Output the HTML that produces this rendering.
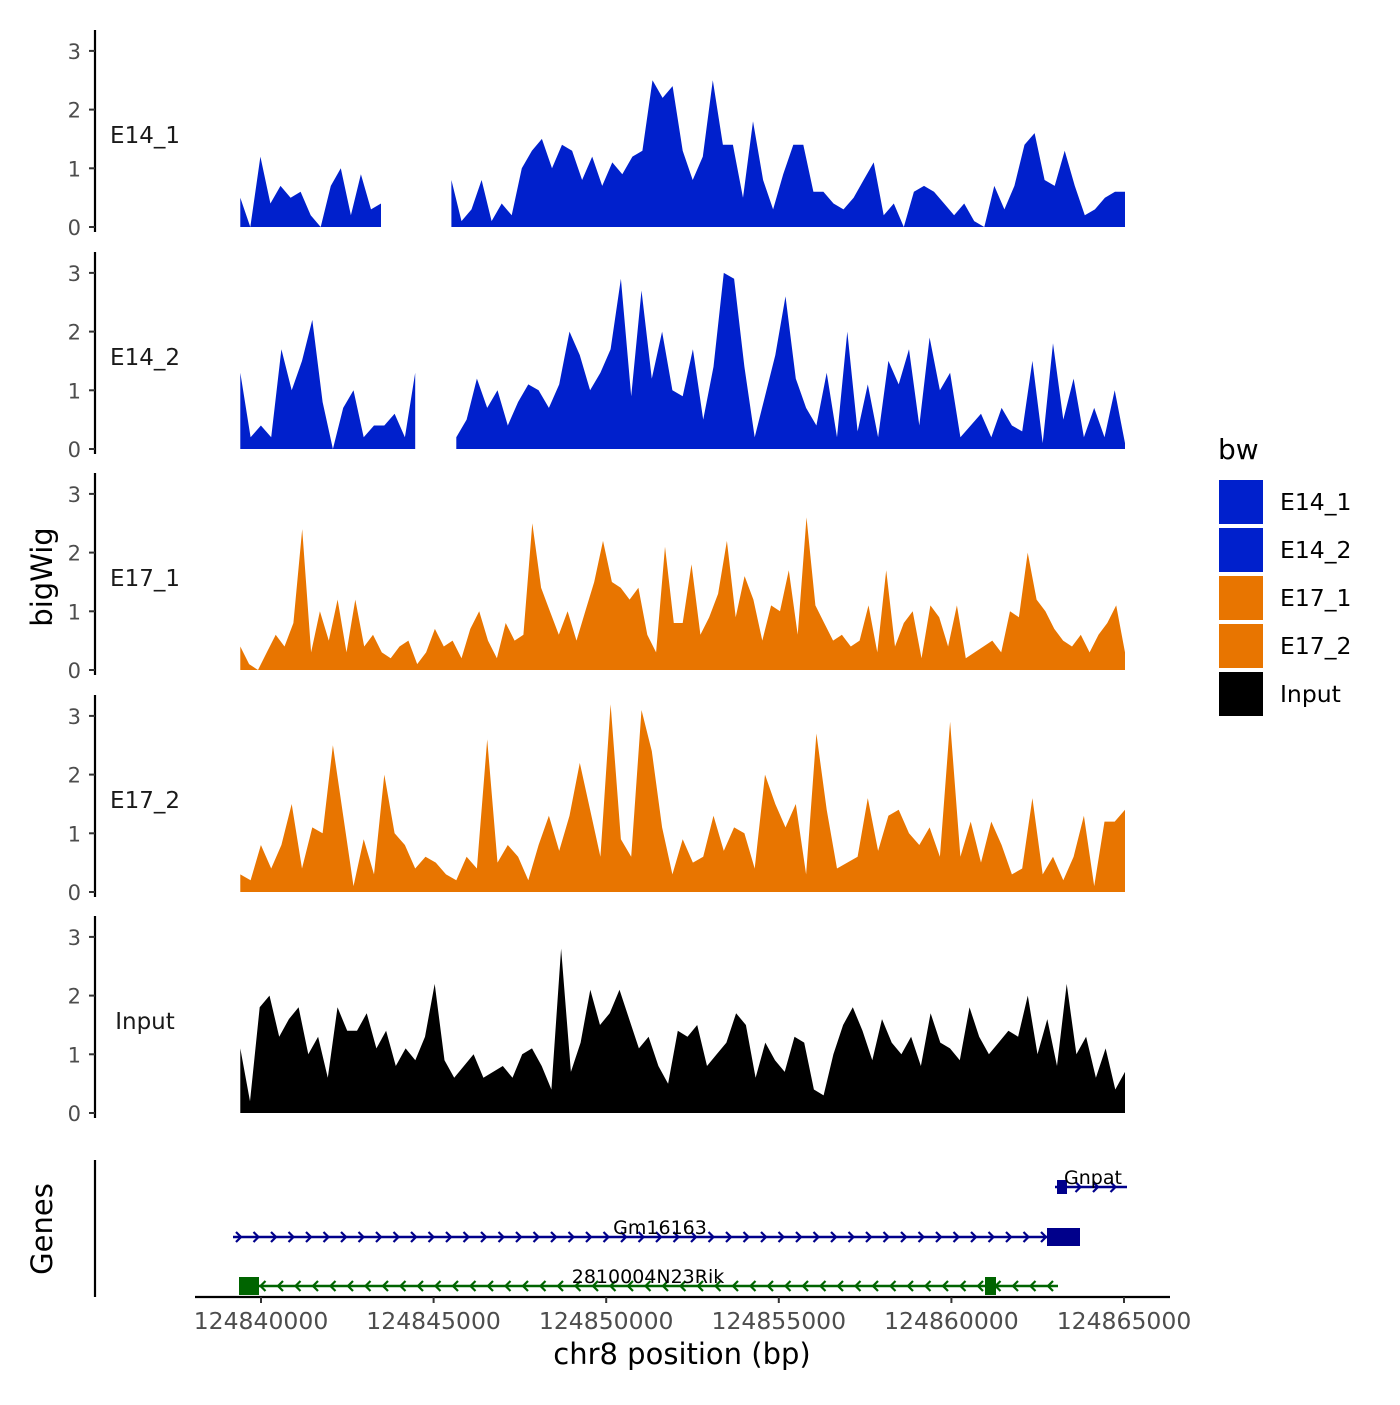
<!DOCTYPE html>
<html><head><meta charset="utf-8">
<style>
body{margin:0;background:#fff;}
svg text{font-family:"DejaVu Sans","Liberation Sans",sans-serif;}
</style></head>
<body>
<svg id="chart" width="1400" height="1400" viewBox="0 0 1400 1400" xmlns="http://www.w3.org/2000/svg">
<rect width="1400" height="1400" fill="#fff"/>
<g id="tracks"></g>
<g id="genes"></g>
<g id="xaxis"></g>
<text x="52" y="577" font-size="29" text-anchor="middle" transform="rotate(-90 52 577)">bigWig</text>
<text x="52" y="1229" font-size="29" text-anchor="middle" transform="rotate(-90 52 1229)">Genes</text>
<text x="682" y="1364" font-size="29" text-anchor="middle">chr8 position (bp)</text>
<g id="legend"></g>
</svg>
<script>
const trackNames = ["E14_1","E14_2","E17_1","E17_2","Input"];
const trackColors = ["#0020cc","#0020cc","#e87500","#e87500","#000000"];
const binStart = 124839400;
const binEnd = 124865030;
const yTicks = [0,1,2,3];
const xTicks = [124840000,124845000,124850000,124855000,124860000,124865000];
const N = null;
const e14_1 = [0.5,0,1.2,0.4,0.7,0.5,0.6,0.2,0,0.7,1.0,0.2,0.9,0.3,0.4,N,N,N,N,N,N,0.8,0.1,0.3,0.8,0.1,0.4,0.2,1.0,1.3,1.5,1.0,1.4,1.3,0.8,1.2,0.7,1.1,0.9,1.2,1.3,2.5,2.2,2.4,1.3,0.8,1.2,2.5,1.4,1.4,0.5,1.8,0.8,0.3,0.9,1.4,1.4,0.6,0.6,0.4,0.3,0.5,0.8,1.1,0.2,0.4,0.0,0.6,0.7,0.6,0.4,0.2,0.4,0.1,0,0.7,0.3,0.7,1.4,1.6,0.8,0.7,1.3,0.7,0.2,0.3,0.5,0.6,0.6];
const e14_2 = [1.3,0.2,0.4,0.2,1.7,1.0,1.5,2.2,0.8,0,0.7,1.0,0.2,0.4,0.4,0.6,0.2,1.3,N,N,N,0.2,0.5,1.2,0.7,1.0,0.4,0.8,1.1,1.0,0.7,1.1,2.0,1.6,1.0,1.3,1.7,2.9,0.9,2.7,1.2,2.0,1.0,0.9,1.7,0.5,1.4,3.0,2.9,1.4,0.2,0.9,1.6,2.6,1.2,0.7,0.4,1.3,0.2,2.0,0.3,1.1,0.2,1.5,1.1,1.7,0.4,1.9,1.0,1.3,0.2,0.4,0.6,0.2,0.7,0.4,0.3,1.5,0.1,1.8,0.5,1.2,0.2,0.7,0.2,1.0,0.1];
const e17_1 = [0.4,0.1,0,0.3,0.6,0.4,0.8,2.4,0.3,1.0,0.5,1.2,0.3,1.2,0.4,0.6,0.3,0.2,0.4,0.5,0.1,0.3,0.7,0.4,0.5,0.2,0.7,1.0,0.5,0.2,0.8,0.5,0.6,2.5,1.4,1.0,0.6,1.0,0.5,1.0,1.5,2.2,1.5,1.4,1.2,1.4,0.6,0.3,2.1,0.8,0.8,1.8,0.6,0.9,1.3,2.2,0.9,1.6,1.2,0.5,1.1,1.0,1.7,0.6,2.6,1.1,0.8,0.5,0.6,0.4,0.5,1.1,0.3,1.7,0.4,0.8,1.0,0.2,1.1,0.9,0.4,1.1,0.2,0.3,0.4,0.5,0.3,1.0,0.9,2.0,1.2,1.0,0.7,0.5,0.4,0.6,0.3,0.6,0.8,1.1,0.3];
const e17_2 = [0.3,0.2,0.8,0.4,0.8,1.5,0.4,1.1,1.0,2.5,1.3,0.1,0.9,0.3,2.0,1.0,0.8,0.4,0.6,0.5,0.3,0.2,0.6,0.4,2.6,0.5,0.8,0.6,0.2,0.8,1.3,0.7,1.3,2.2,1.4,0.6,3.2,0.9,0.6,3.1,2.4,1.1,0.3,0.9,0.5,0.6,1.3,0.7,1.1,1.0,0.4,2.0,1.5,1.1,1.5,0.3,2.7,1.4,0.4,0.5,0.6,1.6,0.7,1.3,1.4,1.0,0.8,1.1,0.6,2.9,0.6,1.2,0.5,1.2,0.8,0.3,0.4,1.6,0.3,0.6,0.2,0.6,1.3,0.1,1.2,1.2,1.4];
const inputV = [1.1,0.2,1.8,2.0,1.3,1.6,1.8,1.0,1.3,0.6,1.8,1.4,1.4,1.7,1.1,1.4,0.8,1.1,0.9,1.3,2.2,0.9,0.6,0.8,1.0,0.6,0.7,0.8,0.6,1.0,1.1,0.8,0.4,2.8,0.7,1.2,2.1,1.5,1.7,2.1,1.6,1.1,1.3,0.8,0.5,1.4,1.3,1.5,0.8,1.0,1.2,1.7,1.5,0.6,1.2,0.9,0.7,1.3,1.2,0.4,0.3,1.0,1.5,1.8,1.4,0.9,1.6,1.2,1.0,1.3,0.8,1.7,1.2,1.1,0.9,1.8,1.3,1.0,1.2,1.4,1.3,2.0,1.0,1.6,0.8,2.2,1.0,1.3,0.6,1.1,0.4,0.7];
const trackData = [e14_1,e14_2,e17_1,e17_2,inputV];

const NS="http://www.w3.org/2000/svg";
function mk(tag,attrs,parent,txt){const e=document.createElementNS(NS,tag);for(const k in attrs)e.setAttribute(k,attrs[k]);if(txt!==undefined)e.textContent=txt;parent.appendChild(e);return e;}
const xScale = bp => 261 + (bp-124840000)*863/25000;
const panelZero = [227,449,670,892,1113];
const yScale = (p,v) => panelZero[p] - v*58.7;

const tracks=document.getElementById('tracks');
trackNames.forEach((name,p)=>{
  const g=mk('g',{},tracks);
  
  
  const ax=mk('line',{x1:95,x2:95,y1:panelZero[p]-197,y2:panelZero[p]+5,stroke:'#000','stroke-width':2.2},g);
  
  
  yTicks.forEach(t=>{
    const y=yScale(p,t);
    mk('line',{x1:89,x2:95,y1:y,y2:y,stroke:'#333','stroke-width':2},g);
    const tl=mk('text',{x:81,y:y+8,'font-size':21,fill:'#4d4d4d','text-anchor':'end'},g,String(t));
    
    
  });
  const lbl=mk('text',{x:145,y:panelZero[p]-84,'font-size':23,'text-anchor':'middle',fill:'#1a1a1a'},g,name);
  
  
  const vals=trackData[p];
  const step=(binEnd-binStart)/(vals.length-1);
  let seg=[];const segs=[];
  vals.forEach((v,i)=>{ if(v===null){ if(seg.length)segs.push(seg); seg=[]; } else seg.push([xScale(binStart+i*step),yScale(p,v)]); });
  if(seg.length)segs.push(seg);
  segs.forEach(s=>{
    const z=panelZero[p];
    let pts=s.map(q=>q[0].toFixed(1)+','+q[1].toFixed(1)).join(' ');
    pts=s[0][0].toFixed(1)+','+z+' '+pts+' '+s[s.length-1][0].toFixed(1)+','+z;
    const a=mk('polygon',{points:pts,fill:trackColors[p]},g);
    
    
  });
});

const genes=document.getElementById('genes');
mk('line',{x1:95,x2:95,y1:1160,y2:1297,stroke:'#000','stroke-width':2.2},genes);
function arrows(g,x1,x2,y,color,dir){
  for(let x=x1+6;x<x2-4;x+=17.5){
    const d=dir>0?`M${x-3},${y-5} L${x+2},${y} L${x-3},${y+5}`:`M${x+3},${y-5} L${x-2},${y} L${x+3},${y+5}`;
    mk('path',{d:d,stroke:color,'stroke-width':2.2,fill:'none'},g);
  }
}
const gn=[
  {name:'Gnpat',x1:1055,x2:1127,y:1187,c:'#00008b',dir:1,boxes:[[1057,1067,14]],lx:1093},
  {name:'Gm16163',x1:233,x2:1080,y:1237,c:'#00008b',dir:1,boxes:[[1047,1080,18]],lx:660},
  {name:'2810004N23Rik',x1:239,x2:1058,y:1286,c:'#006400',dir:-1,boxes:[[239,259,18],[985,996,18]],lx:648}
];
gn.forEach(d=>{
  const g=mk('g',{},genes);
  
  
  mk('line',{x1:d.x1,x2:d.x2,y1:d.y,y2:d.y,stroke:d.c,'stroke-width':2.5},g);
  arrows(g,d.x1,d.x2,d.y,d.c,d.dir);
  d.boxes.forEach(b=>mk('rect',{x:b[0],y:d.y-b[2]/2,width:b[1]-b[0],height:b[2],fill:d.c},g));
  mk('text',{x:d.lx,y:d.y-3,'font-size':19,'text-anchor':'middle'},g,d.name);
});
const xa=document.getElementById('xaxis');
mk('line',{x1:195,x2:1170,y1:1297,y2:1297,stroke:'#000','stroke-width':2.2},xa);
xTicks.forEach(t=>{
  const x=xScale(t);
  mk('line',{x1:x,x2:x,y1:1297,y2:1303,stroke:'#333','stroke-width':2},xa);
  const tl=mk('text',{x:x,y:1329,'font-size':23.5,fill:'#4d4d4d','text-anchor':'middle'},xa,String(t));
  
  
});
const lg=document.getElementById('legend');
mk('text',{x:1218,y:459,'font-size':28},lg,'bw');
const legendCols=["#0020cc","#0020cc","#e87500","#e87500","#000000"];
trackNames.forEach((n,i)=>{
  const e=mk('g',{},lg);
  
  
  mk('rect',{x:1219,y:480+i*48,width:44,height:44,fill:legendCols[i]},e);
  mk('text',{x:1280,y:510+i*48,'font-size':23.5},e,n);
});
</script>
</body></html>
